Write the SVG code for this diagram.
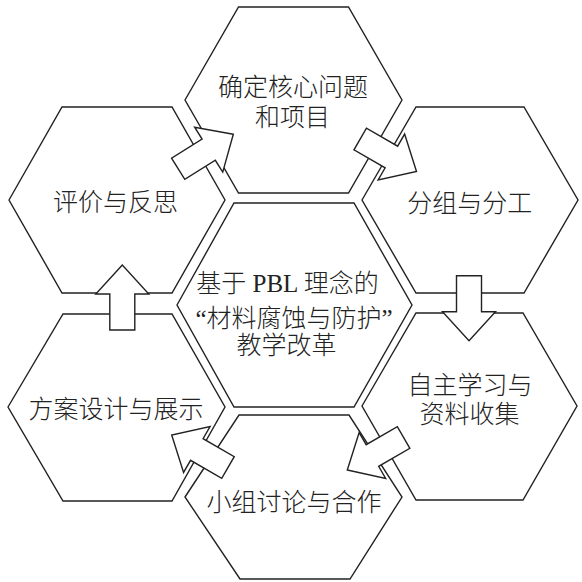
<svg xmlns="http://www.w3.org/2000/svg" width="582" height="582" viewBox="0 0 582 582">
<defs>
<style>
.hex{fill:#fff;stroke:#222;stroke-width:1.4;stroke-linejoin:miter}
.arr{fill:#fff;stroke:#222;stroke-width:1.4;stroke-linejoin:miter}
.t{font-family:"Liberation Serif","Noto Sans CJK SC",serif;font-size:25px;font-weight:300;fill:#222;text-anchor:middle}
</style>
<polygon id="arrow" points="0,0 -29,-26.5 -29,-12.5 -65,-12.5 -65,12.5 -29,12.5 -29,26.5"/>
</defs>
<rect width="582" height="582" fill="#fff"/>
<g id="node-top">
<polygon class="hex" points="185,100 238.5,7 348.5,7 402,100 348.5,193 238.5,193"/>
<text class="t" x="293" y="95.5">确定核心问题</text>
<text class="t" x="292.5" y="126">和项目</text>
</g>
<g id="node-center">
<polygon class="hex" points="177,305 234,203 354,203 412,305 354,407 234,407"/>
<text class="t" x="287.5" y="291.5">基于 PBL 理念的</text>
<text class="t" x="294" y="326.5">“材料腐蚀与防护”</text>
<text class="t" x="286.5" y="353.5">教学改革</text>
</g>
<g id="node-upper-left">
<polygon class="hex" points="9,200 62,107 172,107 225,200 172,293 62,293"/>
<text class="t" x="115.5" y="210.5">评价与反思</text>
</g>
<g id="node-upper-right">
<polygon class="hex" points="362,200 416,107 524,107 578,200 524,293 416,293"/>
<text class="t" x="469.7" y="212">分组与分工</text>
</g>
<g id="node-lower-left">
<polygon class="hex" points="8,407 63,314 172,314 225,407 172,501 63,501"/>
<text class="t" x="116" y="417.5">方案设计与展示</text>
</g>
<g id="node-lower-right">
<polygon class="hex" points="362,406 416,313 523,313 577,406 523,500 416,500"/>
<text class="t" x="470" y="393.5">自主学习与</text>
<text class="t" x="469.5" y="423">资料收集</text>
</g>
<g id="node-bottom">
<polygon class="hex" points="185,497 239,415 349,415 402,497 350,579 240,579"/>
<text class="t" x="294" y="511">小组讨论与合作</text>
</g>
<g id="connectors">
<use href="#arrow" class="arr" transform="translate(416.5,171.5) rotate(30)"/>
<use href="#arrow" class="arr" transform="translate(469,340.7) rotate(90)"/>
<use href="#arrow" class="arr" transform="translate(347.3,470) rotate(150)"/>
<use href="#arrow" class="arr" transform="translate(171.7,435) rotate(210)"/>
<use href="#arrow" class="arr" transform="translate(122.3,265) rotate(-90)"/>
<use href="#arrow" class="arr" transform="translate(233.3,134.3) rotate(-32)"/>
</g>
</svg>
